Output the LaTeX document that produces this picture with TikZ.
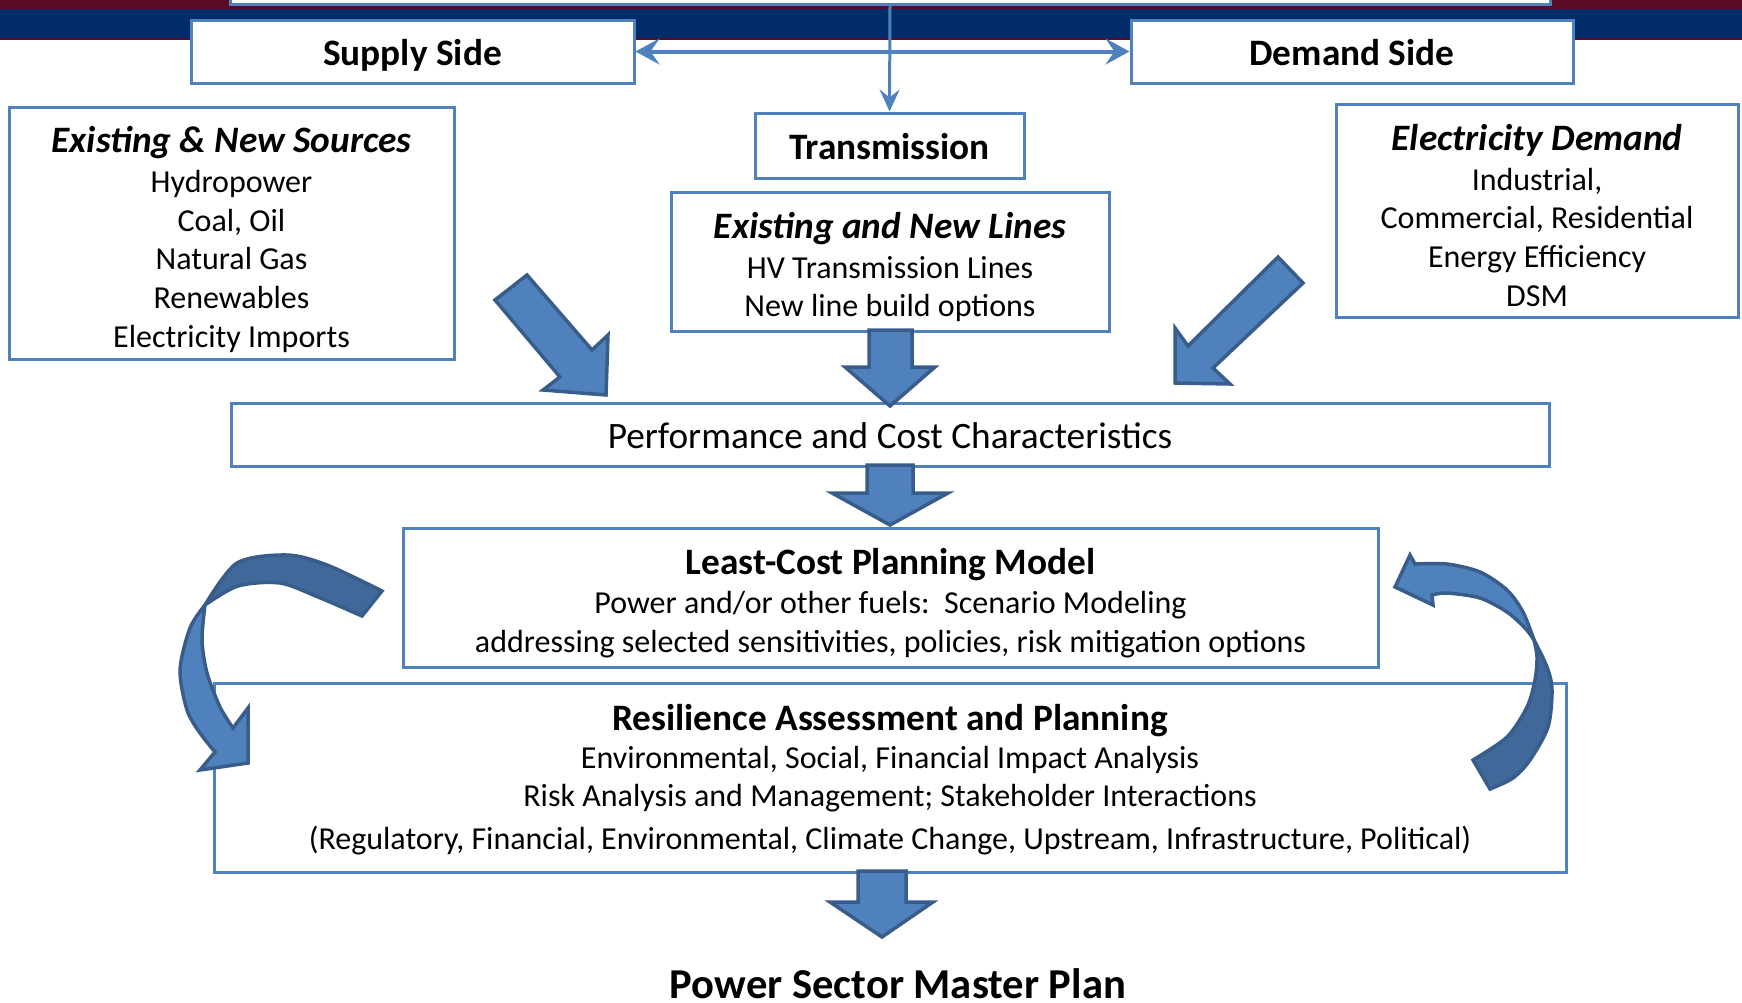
\documentclass[tikz,border=0pt]{standalone}
\usepackage{fontspec}
\setmainfont{Carlito}
\usetikzlibrary{arrows.meta}
\definecolor{boxblue}{RGB}{79,129,189}
\definecolor{arrowedge}{RGB}{56,93,138}
\definecolor{twistblue}{RGB}{64,104,154}
\definecolor{bandnavy}{RGB}{0,45,106}
\definecolor{bandred}{RGB}{92,10,40}
\newcommand{\hd}[1]{{\fontsize{37.3}{40}\selectfont\bfseries #1}}
\newcommand{\hdi}[1]{{\fontsize{37.3}{40}\selectfont\bfseries\itshape #1}}

\begin{document}
\begin{tikzpicture}[x=1pt,y=-1pt]
\tikzstyle{box}=[draw=boxblue,line width=3pt,fill=white,shape=rectangle,inner sep=0pt]
\tikzstyle{txt}=[align=center,inner sep=0pt,font=\fontsize{32}{38.9}\selectfont]
\tikzstyle{blockarrow}=[fill=boxblue,draw=arrowedge,line width=3.5pt]
\tikzstyle{twist}=[fill=twistblue,draw=arrowedge,line width=3.5pt]
\tikzstyle{link}=[draw=boxblue,line width=4pt]
%
\useasboundingbox (0,0) rectangle (1742,1002);
\fill[bandred] (0,0) rectangle (1742,40);
\fill[bandnavy] (0,9) rectangle (1742,38);
%
\node[box,minimum width=1320pt,minimum height=54pt](topbox) at (890,-23){};
\node[box,minimum width=443pt,minimum height=63pt](supply) at (412.5,51.5){};
\node[box,minimum width=442pt,minimum height=63pt](demand) at (1352,51.5){};
\node[box,minimum width=269pt,minimum height=65pt](trans) at (889.5,145.5){};
\node[box,minimum width=438pt,minimum height=139pt](lines) at (890,261.5){};
\node[box,minimum width=445pt,minimum height=252pt](sources) at (231.5,233){};
\node[box,minimum width=402pt,minimum height=213pt](elecdem) at (1537,211){};
\node[box,minimum width=1318pt,minimum height=63pt](perf) at (890,434.5){};
\node[box,minimum width=975pt,minimum height=139pt](lcpm) at (890.5,597.5){};
\node[box,minimum width=1352pt,minimum height=189pt](resil) at (890,777.5){};
%
\node[txt](supplytxt) at (412.5,55){\hd{Supply Side}};
\node[txt](demandtxt) at (1352,52.5){\hd{Demand Side}};
\node[txt](transtxt) at (889.5,147){\hd{Transmission}};
\node[txt](linestxt) at (890,267){\hdi{Existing and New Lines}\\[1pt]HV Transmission Lines\\New line build options};
\node[txt](sourcestxt) at (231.5,239.5){\hdi{Existing \& New Sources}\\[1pt]Hydropower\\Coal, Oil\\Natural Gas\\Renewables\\Electricity Imports};
\node[txt](elecdemtxt) at (1537,215.5){\hdi{Electricity Demand}\\[1pt]Industrial,\\Commercial, Residential\\Energy Efficiency\\DSM};
\node[txt,font=\fontsize{37.3}{40}\selectfont](perftxt) at (890,436){Performance and Cost Characteristics};
\node[txt](lcpmtxt) at (890.5,603){\hd{Least-Cost Planning Model}\\Power and/or other fuels:\ \ Scenario Modeling\\addressing selected sensitivities, policies, risk mitigation options};
\node[txt](resiltxt) at (890,779.5){\hd{Resilience Assessment and Planning}\\Environmental, Social, Financial Impact Analysis\\[-1pt]Risk Analysis and Management; Stakeholder Interactions\\[4pt](Regulatory, Financial, Environmental, Climate Change, Upstream, Infrastructure, Political)};
\node[anchor=base,inner sep=0pt,font=\fontsize{42.6}{46}\selectfont\bfseries](plan) at (898,998){Power Sector Master Plan};
%
\draw[link,{Stealth[length=24pt,width=26pt,inset=9pt]}-{Stealth[length=24pt,width=26pt,inset=9pt]}] (supply) -- (demand);
\draw[link,line width=3pt,-{Stealth[length=22pt,width=20pt,inset=8pt]}] (topbox.south) -- (trans.north);
%
\draw[blockarrow] (869,330) -- (912,330) -- (912,367) -- (935,367) -- (890,406) -- (845,367) -- (869,367) -- cycle;
\draw[blockarrow] (867,465) -- (913,465) -- (913,493) -- (948,493) -- (890,525) -- (832,493) -- (867,493) -- cycle;
\draw[blockarrow] (858,871) -- (906,871) -- (906,902) -- (933,902) -- (882,937) -- (830,902) -- (858,902) -- cycle;
%
\draw[blockarrow] (495,300) -- (527,275) -- (592,350) -- (608,335) -- (606,395) -- (543,390) -- (560,377) -- cycle;
\draw[blockarrow] (1278,257) -- (1188,346) -- (1175,328) -- (1175,383) -- (1230,384) -- (1213,368) -- (1303,283) -- cycle;
%
\draw[blockarrow] plot[smooth] coordinates {(205,605) (190,628) (180,670) (187,710) (200,733) (215,752)} -- (200,770) -- (248,763) -- (248,708) -- (233,728) -- plot[smooth] coordinates {(233,728) (220,707) (207,673) (202,640) (205,605)} -- cycle;
\draw[twist] plot[smooth] coordinates {(382,591) (327,565) (287,555) (237,563) (205,605)} -- plot[smooth] coordinates {(205,605) (238,586) (280,583) (318,597) (362,616)} -- cycle;
%
\draw[blockarrow] (1395,587) -- (1410,555) -- plot[smooth] coordinates {(1415,564) (1447,564) (1480,572) (1507,590) (1523,612) (1534,640)} -- plot[smooth] coordinates {(1534,640) (1525,628) (1507,612) (1480,598) (1447,593) (1432,595)} -- (1433,605) -- cycle;
\draw[twist] plot[smooth] coordinates {(1534,640) (1547,667) (1552,690) (1548,727) (1530,760) (1513,778) (1490,789)} -- (1473,760) -- plot[smooth] coordinates {(1473,760) (1507,737) (1527,707) (1535,680) (1537,657) (1534,640)} -- cycle;
\end{tikzpicture}
\end{document}
